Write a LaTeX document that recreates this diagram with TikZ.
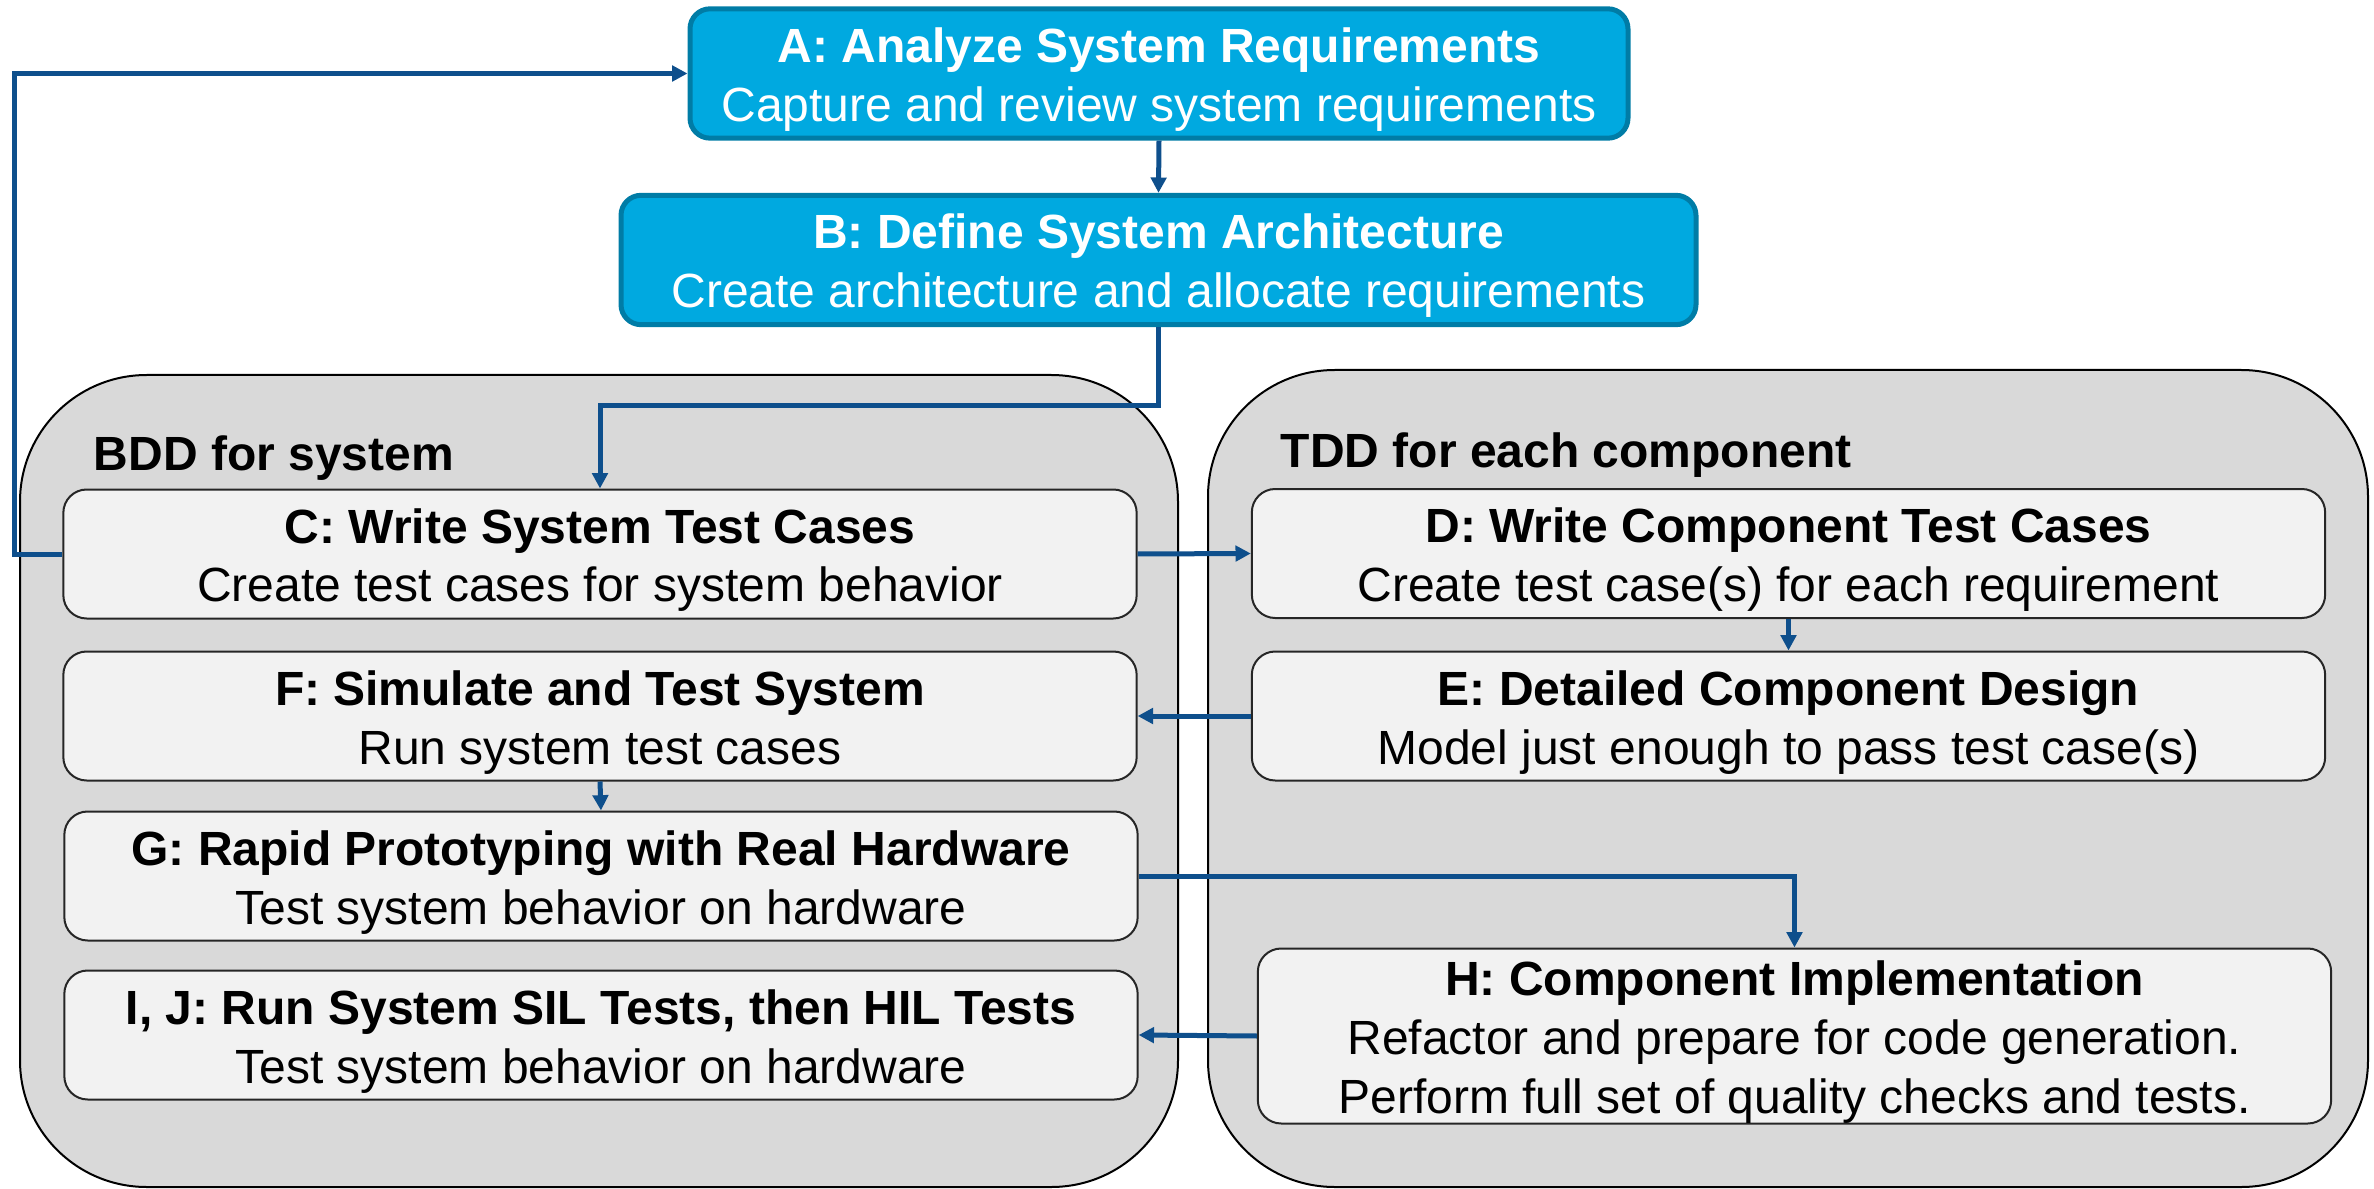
\documentclass[tikz,border=0pt]{standalone}
\usepackage{fontspec}
\setmainfont{Liberation Sans}
\usetikzlibrary{arrows.meta}

\definecolor{reqblue}{RGB}{0,169,224}
\definecolor{reqedge}{RGB}{0,124,166}
\definecolor{flowblue}{RGB}{14,79,140}
\definecolor{lanegray}{RGB}{217,217,217}
\definecolor{stepgray}{RGB}{242,242,242}

% title line and body lines of a box, with fixed top and bottom
\newcommand{\boxlines}[2]{\rule{0pt}{14.1pt}\textbf{#1}\\#2\rule[-3pt]{0pt}{3pt}}

\begin{document}
\begin{tikzpicture}[x=0.3pt, y=-0.3pt,
  font=\fontsize{14.4pt}{17.7pt}\selectfont,
  topbox/.style={draw=reqedge, fill=reqblue, line width=1.5pt, rounded corners=6pt,
    text=white, align=center, inner sep=0pt, minimum height=38.8pt},
  stepbox/.style={draw=black!85, fill=stepgray, line width=0.6pt, rounded corners=7pt,
    align=center, inner sep=0pt, minimum width=322pt, minimum height=38.7pt},
  lane/.style={draw=black, fill=lanegray, line width=0.6pt, rounded corners=38pt},
  flow/.style={draw=flowblue, line width=1.5pt, -{Triangle[length=4.6pt,width=4.6pt]}}]
  \useasboundingbox (0,0) rectangle (2374,1189);

  % Swim lanes
  \draw[lane] (20,375) rectangle (1178,1187);
  \draw[lane] (1208,370) rectangle (2368,1187);
  \node[anchor=base west, font=\fontsize{14.4pt}{17.7pt}\selectfont\bfseries] (bddlabel) at (82,471) {BDD for system};
  \node[anchor=base west, font=\fontsize{14.4pt}{17.7pt}\selectfont\bfseries] (tddlabel) at (1269,467) {TDD for each component};

  % System level steps
  \node[topbox, minimum width=281.4pt] (A) at (1159,73.5)
    {\boxlines{A: Analyze System Requirements}{Capture and review system requirements}};
  \node[topbox, minimum width=322.5pt] (B) at (1158.5,260)
    {\boxlines{B: Define System Architecture}{Create architecture and allocate requirements}};

  % BDD steps
  \node[stepbox] (C) at (600,554)
    {\boxlines{C: Write System Test Cases}{Create test cases for system behavior}};
  \node[stepbox] (F) at (600,716)
    {\boxlines{F: Simulate and Test System}{Run system test cases}};
  \node[stepbox] (G) at (601,876)
    {\boxlines{G: Rapid Prototyping with Real Hardware}{Test system behavior on hardware}};
  \node[stepbox] (I) at (601,1035)
    {\boxlines{I, J: Run System SIL Tests, then HIL Tests}{Test system behavior on hardware}};

  % TDD steps
  \node[stepbox] (D) at (1788.5,553.5)
    {\boxlines{D: Write Component Test Cases}{Create test case(s) for each requirement}};
  \node[stepbox] (E) at (1788.5,716)
    {\boxlines{E: Detailed Component Design}{Model just enough to pass test case(s)}};
  \node[stepbox, minimum height=49.8pt] (H) at (1794.5,1036)
    {\boxlines{H: Component Implementation}{Refactor and prepare for code generation.\\Perform full set of quality checks and tests.}};

  % Turning points
  \coordinate (bcturn) at (0,406);
  \coordinate (loop) at (14,0);

  % Flow
  \draw[flow] (A.south) -- (B.north);
  \draw[flow] (B.south) -- (B.south |- bcturn) -| (C.north);
  \draw[flow] (C.west) -- (C.west -| loop) |- (A.west);
  \draw[flow] (C.east) -- (D.west);
  \draw[flow] (D.south) -- (E.north);
  \draw[flow] (E.west) -- (F.east);
  \draw[flow] (F.south) -- (G.north);
  \draw[flow] (G.east) -| (H.north);
  \draw[flow] (H.west) -- (I.east);
\end{tikzpicture}
\end{document}
